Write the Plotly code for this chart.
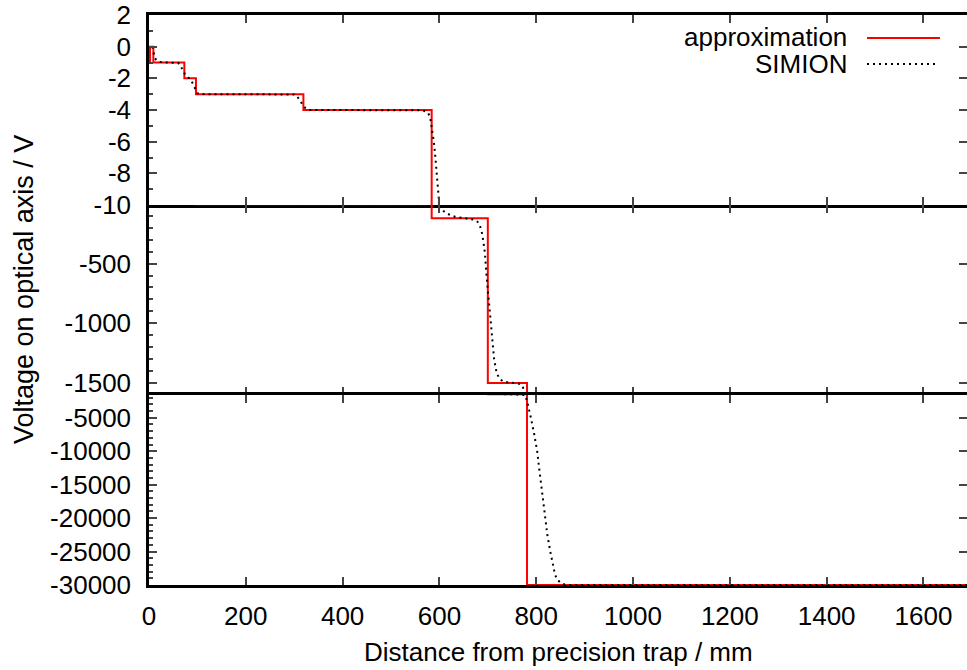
import plotly.graph_objects as go
from plotly.subplots import make_subplots

# ---------------- data ----------------
approx_x = [0, 2, 9, 73, 97, 319, 584, 700, 781, 1700]
approx_y = [-1, 0, -1, -2, -3, -4, -120, -1500, -30000, -30000]

simion_x = [7, 8, 9, 11, 14, 20, 30, 45, 60, 64, 67.5, 71, 74, 78, 85, 90, 94, 98, 100, 103, 108,
            116, 150, 250, 300, 305, 309, 312, 316, 319, 323, 326, 333, 350, 450, 540, 566, 572,
            577, 581, 584, 588, 591, 593, 594.5, 596.5, 599, 601, 608, 615, 624, 632, 645, 656,
            668, 674, 678, 681, 685, 688, 691, 694, 697, 701, 705, 709, 713, 718, 724, 733, 745,
            760, 768, 773, 777, 781, 785, 789, 796, 802, 806, 810, 814, 818, 823, 829, 834, 839,
            845, 851, 858, 866, 880, 1000, 1300, 1700]
simion_y = [0, -0.2, -0.4, -0.6, -0.8, -0.95, -1.0, -1.0, -1.02, -1.15, -1.37, -1.55, -1.72, -1.85,
            -2.06, -2.3, -2.56, -2.85, -2.94, -2.98, -3.0, -3.0, -3.0, -3.0, -3.02, -3.1, -3.25,
            -3.4, -3.6, -3.75, -3.88, -3.95, -4.0, -4.0, -4.0, -4.0, -4.02, -4.1, -4.2, -4.5, -5.06,
            -5.9, -6.76, -7.6, -8.45, -9.1, -9.7, -38, -62, -80, -97, -108, -116, -121, -127, -135,
            -148, -163, -200, -247, -320, -414, -582, -777, -972, -1150, -1300, -1410, -1465, -1488,
            -1497, -1500, -1510, -1540, -1600, -2500, -3700, -5000, -7500, -10000, -12500, -15000,
            -17500, -20000, -22500, -25000, -27000, -28500, -29300, -29700, -29900, -30000, -30000,
            -30000, -30000, -30000]

x_ticks = [0, 200, 400, 600, 800, 1000, 1200, 1400, 1600]
panel_ranges = [[-10, 2], [-1600, -10], [-30000, -1600]]
panel_ticks = [[2, 0, -2, -4, -6, -8, -10], [-500, -1000, -1500],
               [-5000, -10000, -15000, -20000, -25000, -30000]]
panel_minor = [1, 100, 1000]

legend_names = ["approximation", "SIMION"]
x_title = "Distance from precision trap / mm"
y_title = "Voltage on optical axis / V"

# ---------------- figure ----------------
FONT = "Liberation Sans, Arial, Helvetica, sans-serif"
FS = 26
W, H = 967, 670
L, T, R = 149, 15, 0
PW, PH = 818, 570
B = H - T - PH
XMAX = 1690


def px(xw):      # window x pixel -> paper x
    return (xw - L) / PW


def py(yw):      # window y pixel -> paper y
    return (T + PH - yw) / PH


fig = make_subplots(rows=3, cols=1, shared_xaxes=True, vertical_spacing=0)

for r in range(1, 4):
    fig.add_trace(go.Scatter(x=approx_x, y=approx_y, mode="lines", line_shape="hv",
                             line=dict(color="#ff0000", width=2),
                             name=legend_names[0], showlegend=False), row=r, col=1)
    fig.add_trace(go.Scatter(x=simion_x, y=simion_y, mode="lines",
                             line=dict(color="black", width=2, dash="2px,4px"),
                             name=legend_names[1], showlegend=False), row=r, col=1)

for r in range(1, 4):
    fig.update_xaxes(range=[0, XMAX], tickvals=x_ticks, ticks="inside", ticklen=8, tickwidth=2,
                     showline=(r != 2), linewidth=2.5, linecolor="black", mirror="ticks",
                     showgrid=False, zeroline=False, showticklabels=(r == 3), automargin=False,
                     ticklabelstandoff=6, ticklabeloverflow="allow",
                     tickfont=dict(family=FONT, size=FS, color="black"), row=r, col=1)
    fig.update_yaxes(range=panel_ranges[r - 1], tickvals=panel_ticks[r - 1],
                     ticktext=[str(v) for v in panel_ticks[r - 1]],
                     ticks="inside", ticklen=8, tickwidth=2, showline=True, linewidth=2.5,
                     linecolor="black", showgrid=False, zeroline=False, automargin=False,
                     ticklabelstandoff=10, ticklabeloverflow="allow",
                     minor=dict(ticks="inside", ticklen=4, tickwidth=1.5,
                                dtick=panel_minor[r - 1], tick0=0, showgrid=False),
                     tickfont=dict(family=FONT, size=FS, color="black"), row=r, col=1)

# right-hand mirrored major ticks without a frame line (the frame lies just outside the picture)
for i, r in enumerate(range(1, 4)):
    yname = "yaxis%d" % (4 + i)
    main = "y" if r == 1 else "y%d" % r
    xname = "x" if r == 1 else "x%d" % r
    fig.add_trace(go.Scatter(x=[None], y=[None], xaxis=xname, yaxis="y%d" % (4 + i),
                             showlegend=False, hoverinfo="skip"))
    fig.layout[yname] = dict(overlaying=main, side="right", anchor=xname,
                             range=panel_ranges[r - 1], tickvals=panel_ticks[r - 1],
                             ticks="inside", ticklen=8, tickwidth=2, showline=False,
                             showticklabels=False, showgrid=False, zeroline=False,
                             automargin=False)

# legend drawn gnuplot-style: text right-aligned, sample to its right
leg_y = [37, 64]
for name, yp in zip(legend_names, leg_y):
    fig.add_annotation(xref="paper", yref="paper", x=px(849), y=py(yp),
                       xanchor="right", yanchor="middle", showarrow=False, text=name,
                       font=dict(family=FONT, size=FS, color="black"))
fig.add_shape(type="line", xref="paper", yref="paper", x0=px(867), x1=px(940),
              y0=py(38), y1=py(38), line=dict(color="#ff0000", width=2))
fig.add_shape(type="line", xref="paper", yref="paper", x0=px(867), x1=px(937),
              y0=py(64), y1=py(64), line=dict(color="black", width=2, dash="2px,4px"))

fig.add_annotation(xref="paper", yref="paper", x=px(558), y=py(652),
                   xanchor="center", yanchor="middle", showarrow=False, text=x_title,
                   font=dict(family=FONT, size=FS, color="black"))
fig.add_annotation(xref="paper", yref="paper", x=px(24), y=py(290),
                   xanchor="center", yanchor="middle", showarrow=False, text=y_title,
                   textangle=-90, font=dict(family=FONT, size=27, color="black"))

fig.update_layout(width=W, height=H, margin=dict(l=L, r=R, t=T, b=B, pad=0),
                  paper_bgcolor="white", plot_bgcolor="white", showlegend=False)

fig.write_html("out.html", config={"displayModeBar": False},
               post_script="document.body.style.margin='0';document.body.style.overflow='hidden';")
